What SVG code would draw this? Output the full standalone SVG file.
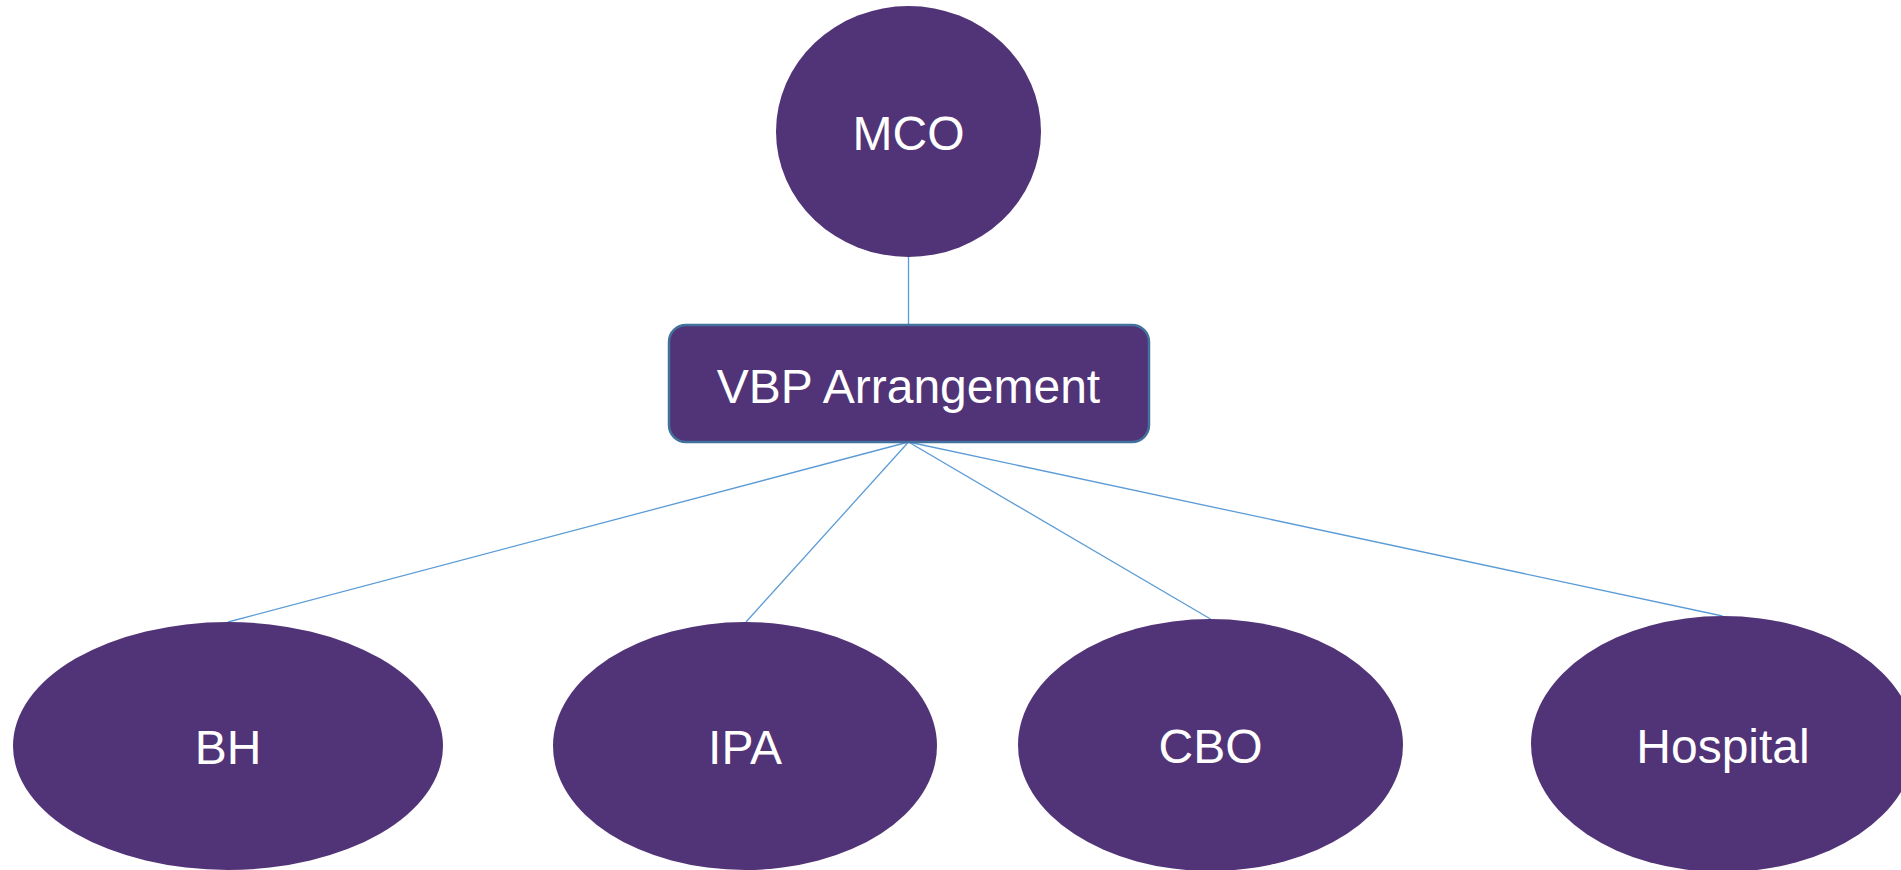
<svg xmlns="http://www.w3.org/2000/svg" width="1901" height="870" viewBox="0 0 1901 870">
<style>
.node{fill:#513377;}
.lbl{fill:#ffffff;font-family:"Liberation Sans",Arial,sans-serif;font-size:48px;text-anchor:middle;}
.conn{stroke:#5B9BD5;stroke-width:1.3;fill:none;}
</style>
<rect width="1901" height="870" fill="#ffffff"/>
<g id="connectors">
<line class="conn" x1="908.5" y1="257" x2="908.5" y2="325"/>
<line class="conn" x1="908.5" y1="442" x2="228" y2="622"/>
<line class="conn" x1="908.5" y1="442" x2="746" y2="622"/>
<line class="conn" x1="908.5" y1="442" x2="1210.5" y2="619"/>
<line class="conn" x1="908.5" y1="442" x2="1722.5" y2="616"/>
</g>
<g id="mco">
<ellipse class="node" cx="908.5" cy="131.5" rx="132.5" ry="125.5"/>
<text class="lbl" x="908.5" y="150">MCO</text>
</g>
<g id="vbp">
<rect class="node" x="669" y="325" width="480" height="117" rx="17" ry="17" stroke="#41719C" stroke-width="2.5"/>
<text class="lbl" x="908.5" y="403">VBP Arrangement</text>
</g>
<g id="bh">
<ellipse class="node" cx="228" cy="746" rx="215" ry="124"/>
<text class="lbl" x="228" y="764">BH</text>
</g>
<g id="ipa">
<ellipse class="node" cx="745" cy="746" rx="192" ry="124"/>
<text class="lbl" x="745" y="764">IPA</text>
</g>
<g id="cbo">
<ellipse class="node" cx="1210.5" cy="745" rx="192.5" ry="126"/>
<text class="lbl" x="1210.5" y="763">CBO</text>
</g>
<g id="hospital">
<ellipse class="node" cx="1723" cy="744" rx="192" ry="128"/>
<text class="lbl" x="1723" y="763">Hospital</text>
</g>
</svg>
